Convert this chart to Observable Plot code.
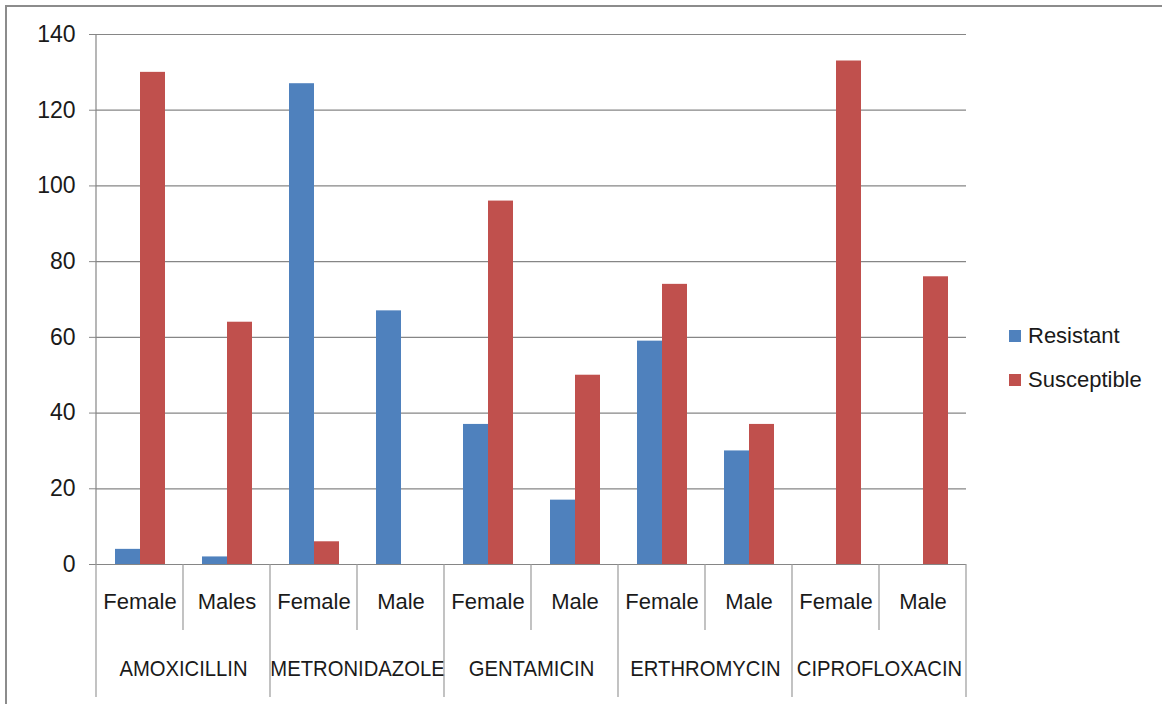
<!DOCTYPE html>
<html>
<head>
<meta charset="utf-8">
<script src="https://cdn.jsdelivr.net/npm/d3@7"></script>
<script src="https://cdn.jsdelivr.net/npm/@observablehq/plot@0.6"></script>
<style>
  html, body { margin: 0; padding: 0; background: #fff; overflow: hidden; }
  #wrap { position: relative; width: 1162px; height: 704px; }
  #border { position: absolute; left: 5px; top: 5px; width: 1200px; height: 760px; border: 2px solid #8c8c8c; box-sizing: border-box; }
  #chart { position: absolute; left: 0; top: 0; }
  .legend-item { position: absolute; font-family: "Liberation Sans", Arial, sans-serif; font-size: 22px; color: #1a1a1a; display: flex; align-items: center; }
  .legend-item span.sw { display: inline-block; width: 12px; height: 12px; margin-right: 7px; }
  svg [aria-label="y-axis tick"] path { stroke: #868686; }
  svg [aria-label="y-axis tick label"] { font-size: 23px; }
</style>
</head>
<body>
<div id="wrap">
  <div id="border"></div>
  <div id="chart"></div>
  <div id="legend"></div>
</div>
<script>
const groups = ["AMOXICILLIN", "METRONIDAZOLE", "GENTAMICIN", "ERTHROMYCIN", "CIPROFLOXACIN"];
const sexes = ["Female", "Males", "Female", "Male", "Female", "Male", "Female", "Male", "Female", "Male"];
const series = ["Resistant", "Susceptible"];
const resistant = [4, 2, 127, 67, 37, 17, 59, 30, 0, 0];
const susceptible = [130, 64, 6, 0, 96, 50, 74, 37, 133, 76];
const yTicks = [0, 20, 40, 60, 80, 100, 120, 140];
const colors = ["#4F81BD", "#C0504D"];

const keys = sexes.map((s, i) => String(i));
const rows = [];
keys.forEach((k, i) => {
  rows.push({key: k, series: series[0], value: resistant[i]});
  rows.push({key: k, series: series[1], value: susceptible[i]});
});
const sexRows = keys.map((k, i) => ({key: k, text: sexes[i]}));
const groupRows = groups.map((g, gi) => ({key: keys[gi * 2 + 1], text: g}));

const font = "'Liberation Sans', Arial, sans-serif";
const plot = Plot.plot({
  width: 1162,
  height: 704,
  marginLeft: 93,
  marginRight: 193,
  marginTop: 34,
  marginBottom: 140,
  style: {fontFamily: font, fontSize: "22px", color: "#1a1a1a", background: "transparent", overflow: "visible"},
  fx: {domain: keys, padding: 0, axis: null},
  x: {domain: series, paddingInner: 0, paddingOuter: 0.73, axis: null},
  y: {domain: [0, 140], ticks: yTicks, tickSize: 7, tickPadding: 14, label: null},
  color: {domain: series, range: colors},
  marks: [
    Plot.ruleY(yTicks, {stroke: "#868686", strokeWidth: 1.2}),
    Plot.barY(rows, {fx: "key", x: "series", y: "value", fill: "series"}),
    Plot.text(sexRows, {fx: "key", text: "text", frameAnchor: "bottom", dy: 44, fill: "#1a1a1a", fontSize: 22}),
    Plot.text(groupRows, {fx: "key", text: "text", frameAnchor: "bottom-left", textAnchor: "middle", dy: 111, fill: "#1a1a1a", fontSize: 22, className: "grp"})
  ]
});
document.getElementById("chart").appendChild(plot);

// condense the group labels slightly (narrow original typeface)
d3.select(plot).selectAll("g.grp text").each(function() {
  const w = this.getComputedTextLength();
  this.setAttribute("textLength", (w * 0.92).toFixed(1));
  this.setAttribute("lengthAdjust", "spacingAndGlyphs");
});

// category axis divider lines, positioned with the plot's fx scale
const fxs = plot.scale("fx");
const bw = fxs.bandwidth;
const bottom = 704 - 140;
const svg = d3.select(plot);
const g = svg.append("g").attr("stroke", "#9a9a9a").attr("stroke-width", 1.2);
for (let i = 0; i <= keys.length; i++) {
  const xp = i < keys.length ? fxs.apply(keys[i]) : fxs.apply(keys[keys.length - 1]) + bw;
  const len = i % 2 === 0 ? 133 : 66;
  g.append("line").attr("x1", xp).attr("x2", xp).attr("y1", bottom).attr("y2", bottom + len);
}
// y axis line
const ys = plot.scale("y");
svg.append("line").attr("stroke", "#868686").attr("stroke-width", 1.2)
  .attr("x1", fxs.apply(keys[0])).attr("x2", fxs.apply(keys[0]))
  .attr("y1", ys.apply(140)).attr("y2", ys.apply(0));

// legend
const legend = document.getElementById("legend");
series.forEach((s, i) => {
  const d = document.createElement("div");
  d.className = "legend-item";
  d.style.left = "1009px";
  d.style.top = (323 + i * 44) + "px";
  d.innerHTML = `<span class="sw" style="background:${colors[i]}"></span>${s}`;
  legend.appendChild(d);
});
</script>
</body>
</html>
